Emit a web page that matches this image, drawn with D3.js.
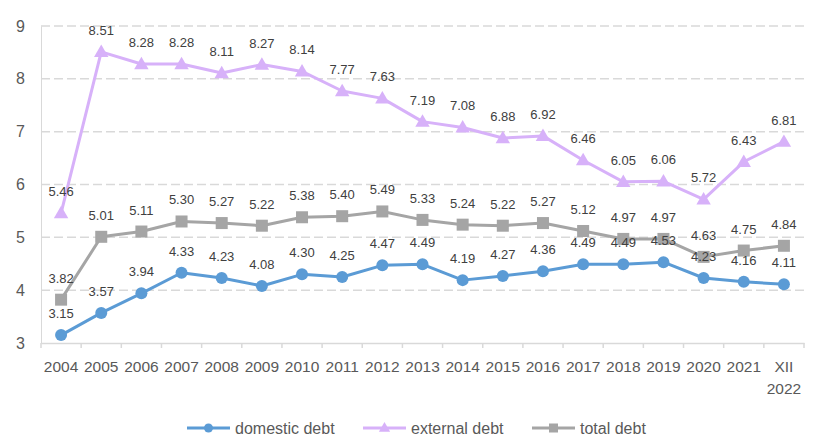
<!DOCTYPE html>
<html>
<head>
<meta charset="utf-8">
<script src="https://cdn.jsdelivr.net/npm/d3@7"></script>
<style>
  body { margin: 0; background: #fff; }
  text { font-family: "Liberation Sans", Arial, sans-serif; }
</style>
</head>
<body>
<svg id="chart" width="817" height="437"></svg>
<script>
// categories and values
var years = ["2004","2005","2006","2007","2008","2009","2010","2011","2012","2013",
             "2014","2015","2016","2017","2018","2019","2020","2021","XII 2022"];
var domestic = [3.15,3.57,3.94,4.33,4.23,4.08,4.30,4.25,4.47,4.49,4.19,4.27,4.36,4.49,4.49,4.53,4.23,4.16,4.11];
var external = [5.46,8.51,8.28,8.28,8.11,8.27,8.14,7.77,7.63,7.19,7.08,6.88,6.92,6.46,6.05,6.06,5.72,6.43,6.81];
var total    = [3.82,5.01,5.11,5.30,5.27,5.22,5.38,5.40,5.49,5.33,5.24,5.22,5.27,5.12,4.97,4.97,4.63,4.75,4.84];
var yTicks = [3,4,5,6,7,8,9];

var series = [
  { name: "domestic debt", values: domestic, color: "#5b9bd5", shape: "circle" },
  { name: "external debt", values: external, color: "#d7b1f9", shape: "triangle" },
  { name: "total debt",    values: total,    color: "#a5a5a5", shape: "square" }
];

var svg = d3.select("#chart");
// plot area edges (not "top": that name is taken by window.top)
var plotL = 41, plotR = 804, plotT = 26, plotB = 343;

var x = d3.scaleBand().domain(years).range([plotL, plotR]);
var y = d3.scaleLinear().domain([3, 9]).range([plotB, plotT]);

// dashed gridlines
svg.append("g").selectAll("line")
  .data(yTicks.slice(1))
  .enter().append("line")
  .attr("x1", plotL).attr("x2", plotR)
  .attr("y1", function(d){ return y(d); })
  .attr("y2", function(d){ return y(d); })
  .style("stroke", "#d9d9d9")
  .style("stroke-width", 1.5)
  .style("stroke-dasharray", "9,4");

// y axis
var yAxis = svg.append("g")
  .attr("transform", "translate(" + plotL + ",0)")
  .call(d3.axisLeft(y).tickValues(yTicks).tickSize(0).tickPadding(16).tickFormat(d3.format("d")));
yAxis.select(".domain").style("stroke", "#d9d9d9").style("stroke-width", 1);
yAxis.selectAll("text").style("font-size", "16px").style("fill", "#595959");

// x axis, ticks at band edges
var xAxis = svg.append("g")
  .attr("transform", "translate(0," + plotB + ")")
  .call(d3.axisBottom(x).tickSize(0).tickPadding(18));
xAxis.select(".domain").style("stroke", "#d9d9d9").style("stroke-width", 1.5);
xAxis.selectAll("text").style("font-size", "15.5px").style("fill", "#595959")
  .each(function(d) {
    var parts = d.split(" ");
    if (parts.length > 1) {
      var t = d3.select(this).text(null);
      parts.forEach(function(p, i) {
        t.append("tspan").attr("x", 0).attr("dy", i ? "1.4em" : "0.71em").text(p);
      });
      t.attr("dy", null);
    }
  });
svg.append("g").selectAll("line")
  .data(years.concat([null]))
  .enter().append("line")
  .attr("x1", function(d, i){ return plotL + i * x.bandwidth(); })
  .attr("x2", function(d, i){ return plotL + i * x.bandwidth(); })
  .attr("y1", plotB).attr("y2", plotB + 5)
  .style("stroke", "#d9d9d9").style("stroke-width", 1.5);

var cx = function(d, i){ return x(years[i]) + x.bandwidth() / 2; };
var line = d3.line()
  .x(function(d, i){ return cx(d, i); })
  .y(function(d){ return y(d); });

function drawMarker(g, shape, color, px, py) {
  if (shape === "circle") {
    g.append("circle").attr("cx", px).attr("cy", py).attr("r", 6).style("fill", color);
  } else if (shape === "square") {
    g.append("rect").attr("x", px - 6).attr("y", py - 6).attr("width", 12).attr("height", 12).style("fill", color);
  } else {
    g.append("path").attr("d", d3.symbol().type(d3.symbolTriangle).size(90)())
      .attr("transform", "translate(" + px + "," + (py + 1) + ")").style("fill", color);
  }
}

// draw in order: total, external, domestic so domestic stays on top
[series[2], series[1], series[0]].forEach(function(s) {
  var g = svg.append("g");
  g.append("path")
    .attr("d", line(s.values))
    .style("fill", "none")
    .style("stroke", s.color)
    .style("stroke-width", 3)
    .style("stroke-linejoin", "round");
  s.values.forEach(function(v, i) {
    drawMarker(g, s.shape, s.color, cx(v, i), y(v));
  });
});

// data labels
series.forEach(function(s) {
  svg.append("g").selectAll("text")
    .data(s.values)
    .enter().append("text")
    .attr("x", cx)
    .attr("y", function(d){ return y(d) - 17; })
    .attr("text-anchor", "middle")
    .style("font-size", "13px")
    .style("fill", "#404040")
    .text(function(d){ return d3.format(".2f")(d); });
});

// legend
var legendX = [187, 363, 532];
var legend = svg.append("g");
series.forEach(function(s, i) {
  var lx = legendX[i], ly = 428;
  legend.append("line")
    .attr("x1", lx).attr("x2", lx + 43)
    .attr("y1", ly).attr("y2", ly)
    .style("stroke", s.color).style("stroke-width", 3);
  var mk = legend.append("g");
  if (s.shape === "circle") {
    mk.append("circle").attr("cx", lx + 21.5).attr("cy", ly).attr("r", 4.5).style("fill", s.color);
  } else if (s.shape === "square") {
    mk.append("rect").attr("x", lx + 17).attr("y", ly - 4.5).attr("width", 9).attr("height", 9).style("fill", s.color);
  } else {
    mk.append("path").attr("d", d3.symbol().type(d3.symbolTriangle).size(55)())
      .attr("transform", "translate(" + (lx + 21.5) + "," + (ly + 0.5) + ")").style("fill", s.color);
  }
  legend.append("text")
    .attr("x", lx + 48).attr("y", ly + 6)
    .style("font-size", "16px").style("fill", "#595959")
    .text(s.name);
});
</script>
</body>
</html>
